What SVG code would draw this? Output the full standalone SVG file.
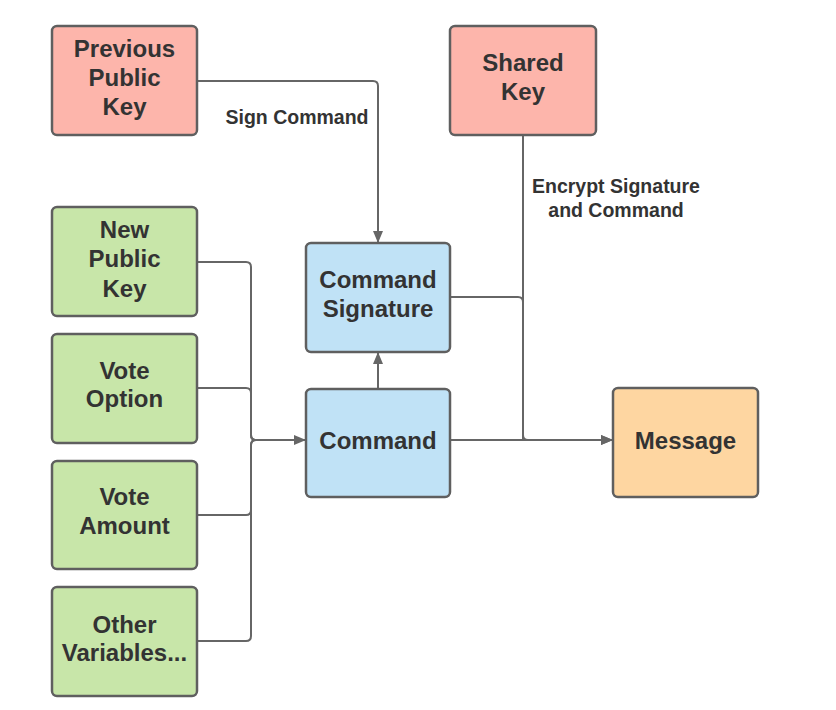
<svg xmlns="http://www.w3.org/2000/svg" width="836" height="710" viewBox="0 0 836 710">
<defs>
<style>
.box{stroke:#5f5f5f;stroke-width:2.5}
.red{fill:#fdb5ab}
.green{fill:#c8e6a9}
.blue{fill:#c0e2f6}
.orange{fill:#fed6a1}
.t{font-family:"Liberation Sans",Arial,sans-serif;font-weight:bold;font-size:24px;fill:#333333;text-anchor:middle}
.lbl{font-family:"Liberation Sans",Arial,sans-serif;font-weight:bold;font-size:19.5px;fill:#333333;text-anchor:middle}
.c{fill:none;stroke:#666666;stroke-width:2}
</style>
<marker id="arr" markerWidth="12" markerHeight="10" refX="11" refY="5" orient="auto" markerUnits="userSpaceOnUse">
<path d="M0,0 L12,5 L0,10 Z" fill="#666666"/>
</marker>
</defs>
<rect width="836" height="710" fill="#ffffff"/>
<g id="connectors">
<path class="c" d="M197,81 H373 Q378,81 378,86 V242" marker-end="url(#arr)"/>
<path class="c" d="M378,389 V353" marker-end="url(#arr)"/>
<path class="c" d="M523,135 V435 Q523,440 528,440 H612" marker-end="url(#arr)"/>
<path class="c" d="M450,297 H518 Q523,297 523,302 V440"/>
<path class="c" d="M450,440 H612" marker-end="url(#arr)"/>
<path class="c" d="M197,262 H246 Q251,262 251,267 V435 Q251,440 256,440"/>
<path class="c" d="M197,388 H246 Q251,388 251,393 V435 Q251,440 256,440"/>
<path class="c" d="M197,515 H246 Q251,515 251,510 V445 Q251,440 256,440"/>
<path class="c" d="M197,641 H246 Q251,641 251,636 V445 Q251,440 256,440"/>
<path class="c" d="M256,440 H305" marker-end="url(#arr)"/>
<text class="lbl" x="297" y="124">Sign Command</text>
<text class="lbl" x="616" y="193">Encrypt Signature</text>
<text class="lbl" x="616" y="217">and Command</text>
</g>
<g id="prev-public-key">
<rect class="box red" x="52" y="26" width="145" height="109" rx="5"/>
<text class="t" x="124.5" y="57">Previous</text>
<text class="t" x="124.5" y="86">Public</text>
<text class="t" x="124.5" y="115">Key</text>
</g>
<g id="shared-key">
<rect class="box red" x="450" y="26" width="146" height="109" rx="5"/>
<text class="t" x="523" y="71">Shared</text>
<text class="t" x="523" y="100">Key</text>
</g>
<g id="new-public-key">
<rect class="box green" x="52" y="207" width="145" height="109" rx="5"/>
<text class="t" x="124.5" y="238">New</text>
<text class="t" x="124.5" y="267">Public</text>
<text class="t" x="124.5" y="297">Key</text>
</g>
<g id="vote-option">
<rect class="box green" x="52" y="334" width="145" height="109" rx="5"/>
<text class="t" x="124.5" y="379">Vote</text>
<text class="t" x="124.5" y="407">Option</text>
</g>
<g id="vote-amount">
<rect class="box green" x="52" y="461" width="145" height="108" rx="5"/>
<text class="t" x="124.5" y="505">Vote</text>
<text class="t" x="124.5" y="534">Amount</text>
</g>
<g id="other-variables">
<rect class="box green" x="52" y="587" width="145" height="109" rx="5"/>
<text class="t" x="124.5" y="633">Other</text>
<text class="t" x="124.5" y="661">Variables...</text>
</g>
<g id="command-signature">
<rect class="box blue" x="306" y="243" width="144" height="109" rx="5"/>
<text class="t" x="378" y="288">Command</text>
<text class="t" x="378" y="317">Signature</text>
</g>
<g id="command">
<rect class="box blue" x="306" y="389" width="144" height="108" rx="5"/>
<text class="t" x="378" y="449">Command</text>
</g>
<g id="message">
<rect class="box orange" x="613" y="388" width="145" height="109" rx="5"/>
<text class="t" x="685.5" y="449">Message</text>
</g>
</svg>
